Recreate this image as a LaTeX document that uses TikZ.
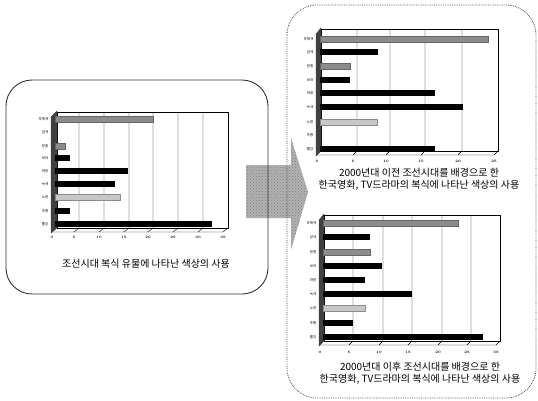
\documentclass[tikz,border=0pt]{standalone}
\usepackage{fontspec}
\newfontfamily\kr{Noto Sans CJK KR}
\usetikzlibrary{patterns}

\tikzset{
  frame/.style={draw=black!80, line width=0.9pt, rounded corners=26pt},
  sideframe/.style={draw=black!70, line width=0.8pt, densely dotted, rounded corners=30pt},
  bk/.style={fill=black},
  dt/.style={fill=black!45, draw=black!60, line width=0.3pt},
  lt/.style={fill=black!22, draw=black!45, line width=0.3pt},
  gl/.style={draw=black, line width=0.45pt},
  cat/.style={font=\kr\fontsize{3.5}{4}\selectfont, anchor=east, inner sep=0.5pt},
  ticklab/.style={font=\fontsize{3.5}{4}\selectfont\bfseries, inner sep=0pt},
  captext/.style={font=\kr\fontsize{10}{12}\selectfont, align=center, inner sep=0pt}
}

\begin{document}
\begin{tikzpicture}[x=1pt,y=-1pt]
\useasboundingbox (0,0) rectangle (538,400);

% arrow
\fill[black!30] (246,165) -- (291,165) -- (291,138) -- (308,192) -- (291,250) -- (291,218) -- (246,218) -- cycle;
\fill[pattern=crosshatch dots, pattern color=black!50] (246,165) -- (291,165) -- (291,138) -- (308,192) -- (291,250) -- (291,218) -- (246,218) -- cycle;

% frames
\draw[frame] (6,80) rectangle (268,294);
\draw[sideframe] (287,5) rectangle (536,398);

% left chart
\draw[gl] (57,112) rectangle (228,228);
\draw[gl] (52,232) -- (223,232) -- (228,228);
\draw[gl] (79,112) -- (79,228) -- (74,232);
\draw[gl] (104,112) -- (104,228) -- (99,232);
\draw[gl] (129,112) -- (129,228) -- (124,232);
\draw[gl] (153,112) -- (153,228) -- (148,232);
\draw[gl] (178,112) -- (178,228) -- (173,232);
\draw[gl] (203,112) -- (203,228) -- (198,232);
\filldraw[black!75] (51,117) -- (57,111) -- (57,228) -- (51,233) -- cycle;

\draw[dt] (55,116) rectangle (153,122);
\draw[dt] (55,143) rectangle (65,149);
\fill[bk] (55,155) rectangle (70,161);
\fill[bk] (55,168) rectangle (128,174);
\fill[bk] (55,181) rectangle (115,187);
\draw[lt] (55,194) rectangle (120,200);
\fill[bk] (55,208) rectangle (70,214);
\fill[bk] (55,221) rectangle (212,227);

\node[cat] (a1) at (49,119) {무채색};
\node[cat] (a2) at (49,132) {갈색};
\node[cat] (a3) at (49,146) {분홍};
\node[cat] (a4) at (49,158) {보라};
\node[cat] (a5) at (49,171) {파랑};
\node[cat] (a6) at (49,184) {녹색};
\node[cat] (a7) at (49,197) {노랑};
\node[cat] (a8) at (49,211) {주황};
\node[cat] (a9) at (49,224) {빨강};

\node[ticklab] (at0) at (52,237) {0};
\node[ticklab] (at1) at (74,237) {5};
\node[ticklab] (at2) at (99,237) {10};
\node[ticklab] (at3) at (124,237) {15};
\node[ticklab] (at4) at (148,237) {20};
\node[ticklab] (at5) at (173,237) {25};
\node[ticklab] (at6) at (198,237) {30};
\node[ticklab] (at7) at (223,237) {35};

\node[captext] (capa) at (146,264) {조선시대 복식 유물에 나타난 색상의 사용};

% top right chart
\draw[gl] (321,29) rectangle (498,151);
\draw[gl] (317,155) -- (494,155) -- (498,151);
\draw[gl] (357,29) -- (357,151) -- (353,155);
\draw[gl] (390,29) -- (390,151) -- (386,155);
\draw[gl] (425,29) -- (425,151) -- (421,155);
\draw[gl] (462,29) -- (462,151) -- (458,155);
\filldraw[black!75] (316,34) -- (321,28) -- (321,151) -- (316,156) -- cycle;

\draw[dt] (320,36) rectangle (488,42);
\fill[bk] (320,49) rectangle (378,55);
\draw[dt] (320,63) rectangle (350,69);
\fill[bk] (320,77) rectangle (350,83);
\fill[bk] (320,90) rectangle (435,96);
\fill[bk] (320,104) rectangle (463,110);
\draw[lt] (320,119) rectangle (377,125);
\fill[bk] (320,146) rectangle (435,152);

\node[cat] (b1) at (314,39) {무채색};
\node[cat] (b2) at (314,52) {갈색};
\node[cat] (b3) at (314,66) {분홍};
\node[cat] (b4) at (314,80) {보라};
\node[cat] (b5) at (314,93) {파랑};
\node[cat] (b6) at (314,107) {녹색};
\node[cat] (b7) at (314,122) {노랑};
\node[cat] (b8) at (314,135) {주황};
\node[cat] (b9) at (314,149) {빨강};

\node[ticklab] (bt0) at (317,161) {0};
\node[ticklab] (bt1) at (353,161) {5};
\node[ticklab] (bt2) at (386,161) {10};
\node[ticklab] (bt3) at (421,161) {15};
\node[ticklab] (bt4) at (458,161) {20};
\node[ticklab] (bt5) at (494,161) {25};

\node[captext] (capb) at (419,179) {2000년대 이전 조선시대를 배경으로 한\\한국영화, TV드라마의 복식에 나타난 색상의 사용};

% bottom right chart
\draw[gl] (324,215) rectangle (500,341);
\draw[gl] (320,345) -- (496,345) -- (500,341);
\draw[gl] (353,215) -- (353,341) -- (349,345);
\draw[gl] (383,215) -- (383,341) -- (379,345);
\draw[gl] (412,215) -- (412,341) -- (408,345);
\draw[gl] (442,215) -- (442,341) -- (438,345);
\draw[gl] (471,215) -- (471,341) -- (467,345);
\filldraw[black!75] (319,220) -- (324,214) -- (324,341) -- (319,346) -- cycle;

\draw[dt] (323,220) rectangle (458,226);
\fill[bk] (323,234) rectangle (370,240);
\draw[dt] (323,249) rectangle (370,255);
\fill[bk] (323,263) rectangle (382,269);
\fill[bk] (323,277) rectangle (365,283);
\fill[bk] (323,291) rectangle (412,297);
\draw[lt] (323,305) rectangle (365,311);
\fill[bk] (323,320) rectangle (353,326);
\fill[bk] (323,334) rectangle (483,340);

\node[cat] (c1) at (317,223) {무채색};
\node[cat] (c2) at (317,237) {갈색};
\node[cat] (c3) at (317,252) {분홍};
\node[cat] (c4) at (317,266) {보라};
\node[cat] (c5) at (317,280) {파랑};
\node[cat] (c6) at (317,294) {녹색};
\node[cat] (c7) at (317,308) {노랑};
\node[cat] (c8) at (317,323) {주황};
\node[cat] (c9) at (317,337) {빨강};

\node[ticklab] (ct0) at (320,352) {0};
\node[ticklab] (ct1) at (349,352) {5};
\node[ticklab] (ct2) at (379,352) {10};
\node[ticklab] (ct3) at (408,352) {15};
\node[ticklab] (ct4) at (438,352) {20};
\node[ticklab] (ct5) at (467,352) {25};
\node[ticklab] (ct6) at (496,352) {30};

\node[captext] (capc) at (420,373.5) {2000년대 이후 조선시대를 배경으로 한\\한국영화, TV드라마의 복식에 나타난 색상의 사용};
\end{tikzpicture}
\end{document}
